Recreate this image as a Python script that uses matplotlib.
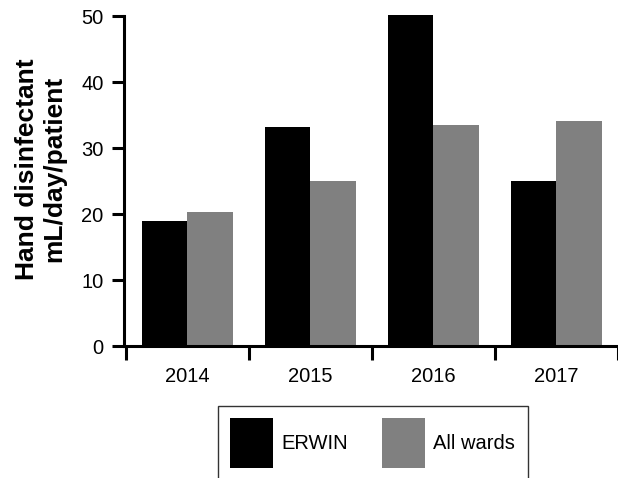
import numpy as np
import matplotlib.pyplot as plt
from matplotlib.patches import Patch

plt.rcParams['font.family'] = ['Liberation Sans', 'DejaVu Sans']

years = ['2014', '2015', '2016', '2017']
erwin = [18.9, 33.2, 50.2, 25.0]
all_wards = [20.3, 25.0, 33.5, 34.1]
series_names = ['ERWIN', 'All wards']
colors = ['#000000', '#808080']

fig = plt.figure(figsize=(6.18, 4.78), dpi=100)
ax = fig.add_axes([124 / 618, 132 / 478, 1 - 124 / 618, 330 / 478])

x = np.arange(len(years))
w = 0.37
ax.bar(x - w / 2, erwin, w, color=colors[0], clip_on=False)
ax.bar(x + w / 2, all_wards, w, color=colors[1], clip_on=False)

ax.set_xlim(-0.515, 3.47)
ax.set_ylim(0, 50)
ax.set_yticks(np.arange(0, 51, 10))
ax.set_xticks(np.arange(len(years) + 1) - 0.5)
ax.set_xticklabels([])
ax.set_xticks(x, minor=True)
ax.set_xticklabels(years, minor=True, fontsize=14.5)
ax.tick_params(axis='x', which='minor', length=0, pad=15)
ax.tick_params(axis='x', which='major', length=10, width=2.2, direction='out')
ax.tick_params(axis='y', length=8.6, width=2.2, labelsize=14.5, pad=6)

for s in ['top', 'right']:
    ax.spines[s].set_visible(False)
for s in ['left', 'bottom']:
    ax.spines[s].set_linewidth(2.2)

ax.set_ylabel('Hand disinfectant\nmL/day/patient', fontsize=19, fontweight='bold',
              linespacing=1.15)
ax.yaxis.set_label_coords(-0.117, 0.536)

handles = [Patch(facecolor=c, edgecolor='none') for c in colors]
leg = fig.legend(handles, series_names, loc='upper left',
                 bbox_to_anchor=(217.7 / 618, 1 - 406 / 478), ncol=2,
                 fontsize=14.5, frameon=True, fancybox=False, edgecolor='black',
                 handlelength=2.14, handleheight=3.38, handletextpad=0.4,
                 columnspacing=1.7, borderpad=0.62, borderaxespad=0)
leg.get_frame().set_linewidth(1)

fig.savefig('out.png', dpi=100)
